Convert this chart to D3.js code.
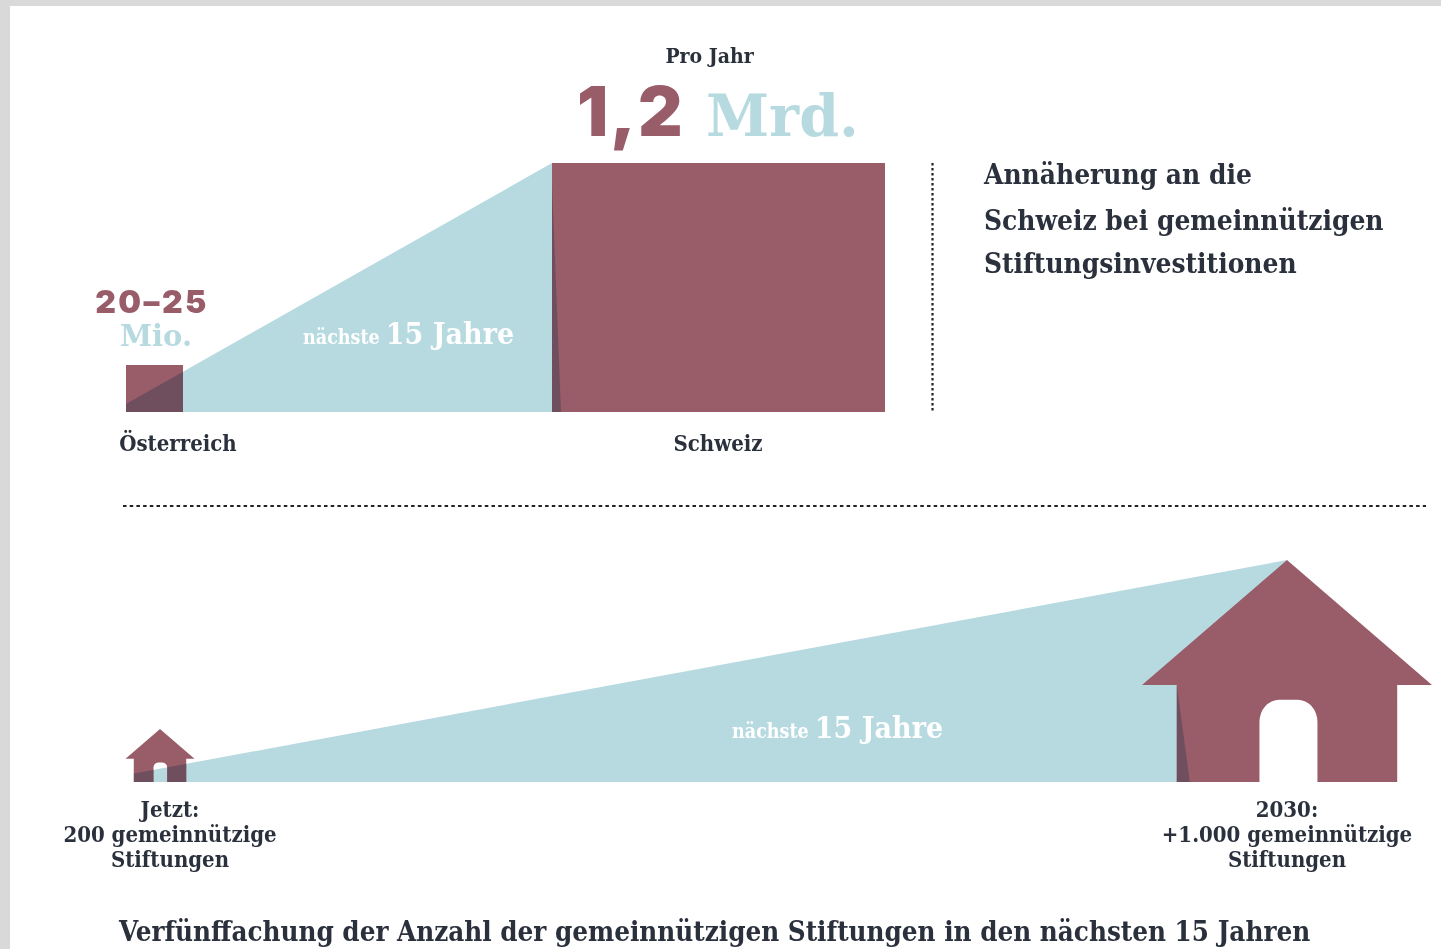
<!DOCTYPE html>
<html lang="de">
<head>
  <meta charset="UTF-8" />
  <title>Annäherung an die Schweiz</title>
  <script src="https://d3js.org/d3.v7.min.js"></script>
  <style>
    html, body { margin: 0; padding: 0; background: #fff; overflow: hidden; }
    svg { display: block; filter: blur(0.5px); }
    text { font-family: "DejaVu Serif Condensed", "DejaVu Serif", serif; font-weight: 700; fill: #2a303c; }
    .big { font-family: Inter, "Noto Sans", sans-serif; font-weight: 900; fill: #995d6a; }
    .unit { font-family: "DejaVu Serif", serif; fill: #b7dae1; }
    .span-white { fill: #fff; }
  </style>
</head>
<body>
  <div id="chart"></div>
  <script>
    // Values
    const countries = ["Österreich", "Schweiz"];
    const amounts = [22.5, 1200]; // Mio. pro Jahr
    const stages = ["Jetzt", "2030"];
    const foundations = [200, 1000];
    const stageLabels = [
      ["Jetzt:", "200 gemeinnützige", "Stiftungen"],
      ["2030:", "+1.000 gemeinnützige", "Stiftungen"]
    ];
    const titleLines = ["Annäherung an die", "Schweiz bei gemeinnützigen", "Stiftungsinvestitionen"];
    const footer = "Verfünffachung der Anzahl der gemeinnützigen Stiftungen in den nächsten 15 Jahren";

    const width = 1441, height = 949;
    const purple = "#995d6a", blue = "#b7dae1", dark = "#6f4e5e";

    const svg = d3.select("#chart").append("svg")
      .attr("width", width)
      .attr("height", height);
    const defs = svg.append("defs");
    const line = d3.line();

    // Page frame
    svg.append("rect").attr("width", width).attr("height", 6).attr("fill", "#d9d9d9");
    svg.append("rect").attr("width", 10).attr("height", height).attr("fill", "#d9d9d9");

    // Top panel: squares
    const baseTop = 412;
    const wedgeStart = 0.17; // share of the small mark covered by the wedge
    const xCountry = d3.scalePoint().domain(countries).range([154.5, 718.5]);
    const sideW = d3.scaleSqrt().domain(amounts).range([57, 333]);
    const sideH = d3.scaleSqrt().domain(amounts).range([47, 249]);
    const squares = countries.map((c, i) => {
      const w = sideW(amounts[i]), h = sideH(amounts[i]);
      return { x: xCountry(c) - w / 2, y: baseTop - h, w, h };
    });
    const [sqA, sqB] = squares;

    const wedgeTop = [
      [sqA.x, baseTop - sqA.h * wedgeStart],
      [sqB.x, sqB.y],
      [sqB.x, baseTop],
      [sqA.x, baseTop]
    ];
    svg.append("path").attr("d", line(wedgeTop) + "Z").attr("fill", blue);
    svg.selectAll("rect.square").data(squares).enter().append("rect")
      .attr("class", "square")
      .attr("x", d => d.x).attr("y", d => d.y)
      .attr("width", d => d.w).attr("height", d => d.h)
      .attr("fill", purple);

    defs.append("clipPath").attr("id", "clipA").append("rect")
      .attr("x", sqA.x).attr("y", sqA.y).attr("width", sqA.w).attr("height", sqA.h);
    svg.append("path").attr("d", line(wedgeTop) + "Z").attr("fill", dark).attr("clip-path", "url(#clipA)");
    // shadow sliver on the big square
    svg.append("path")
      .attr("d", line([[sqB.x, sqB.y + 20], [sqB.x + 9, baseTop], [sqB.x, baseTop]]) + "Z")
      .attr("fill", dark);

    // Dotted dividers
    svg.append("line").attr("x1", 932.5).attr("x2", 932.5).attr("y1", sqB.y).attr("y2", baseTop)
      .attr("stroke", "#222").attr("stroke-width", 2.2).attr("stroke-dasharray", "2.5 2.5");
    svg.append("line").attr("x1", 123).attr("x2", 1426).attr("y1", 506).attr("y2", 506)
      .attr("stroke", "#222").attr("stroke-width", 2.2).attr("stroke-dasharray", "3.5 3.2");

    // Bottom panel: houses
    const baseBottom = 782;
    const xStage = d3.scalePoint().domain(stages).range([160, 1287]);
    const houseW = d3.scaleLinear().domain(foundations).range([69, 290]);
    const houseH = d3.scaleLinear().domain(foundations).range([53, 222]);

    // house outline in shares of its width and height, door is part of the outline
    function housePath(cx, w, h) {
      const x = t => cx + (t - 0.5) * w;
      const y = t => baseBottom - t * h;
      const rx = 0.068 * w, ry = 0.1 * h;
      const doorTop = y(0.37), doorL = x(0.405), doorR = x(0.605);
      return `M${x(0.5)},${y(1)}L${x(1)},${y(0.437)}L${x(0.88)},${y(0.437)}L${x(0.88)},${y(0)}` +
        `L${doorR},${y(0)}L${doorR},${doorTop + ry}` +
        `A${rx},${ry} 0 0 0 ${doorR - rx},${doorTop}L${doorL + rx},${doorTop}` +
        `A${rx},${ry} 0 0 0 ${doorL},${doorTop + ry}` +
        `L${doorL},${y(0)}L${x(0.12)},${y(0)}L${x(0.12)},${y(0.437)}L${x(0)},${y(0.437)}Z`;
    }
    const houses = stages.map((s, i) => ({
      d: housePath(xStage(s), houseW(foundations[i]), houseH(foundations[i])),
      cx: xStage(s), w: houseW(foundations[i]), h: houseH(foundations[i])
    }));
    const [hA, hB] = houses;
    const wedgeLeft = hA.cx - 0.38 * hA.w;
    const bodyB = hB.cx - 0.38 * hB.w;
    const wedgeBottom = [
      [wedgeLeft, baseBottom - hA.h * 0.16],
      [hB.cx, baseBottom - hB.h],
      [bodyB, baseBottom],
      [wedgeLeft, baseBottom]
    ];
    svg.append("path").attr("d", line(wedgeBottom) + "Z").attr("fill", blue);
    svg.selectAll("path.house").data(houses).enter().append("path")
      .attr("class", "house").attr("d", d => d.d).attr("fill", purple);

    defs.append("clipPath").attr("id", "clipH").append("path").attr("d", hA.d);
    svg.append("path").attr("d", line(wedgeBottom) + "Z").attr("fill", dark).attr("clip-path", "url(#clipH)");
    svg.append("path")
      .attr("d", line([[bodyB, baseBottom - hB.h * 0.437], [bodyB + 13, baseBottom], [bodyB, baseBottom]]) + "Z")
      .attr("fill", dark);

    // Text
    function label(x, y, str, size, anchor, cls) {
      return svg.append("text").attr("x", x).attr("y", y).attr("font-size", size)
        .attr("text-anchor", anchor || "start").attr("class", cls || null).text(str);
    }

    label(709.5, 63, "Pro Jahr", 21, "middle");
    label(577, 136, "1,2", 69, "start", "big").attr("letter-spacing", 2);
    label(706, 136, "Mrd.", 57, "start", "unit");
    label(152, 313, "20–25", 32, "middle", "big").attr("letter-spacing", 2.4);
    label(156, 346, "Mio.", 29, "middle", "unit");
    label(178, 451, countries[0], 22, "middle");
    label(718, 451, countries[1], 22, "middle");

    titleLines.forEach((t, i) => label(984, [184, 230, 273][i], t, 27.8));

    function framed(x, y) {
      const t = label(x, y, "nächste ", 19.5, "start", "span-white");
      t.append("tspan").attr("font-size", 30).text("15 Jahre");
    }
    framed(303, 344);
    framed(732, 738);

    const labelX = [170, 1287];
    const labelY = [817, 842, 867];
    stageLabels.forEach((lines, i) => {
      lines.forEach((t, j) => label(labelX[i], labelY[j], t, 22, "middle"));
    });

    label(119, 941, footer, 27.5);
  </script>
</body>
</html>
